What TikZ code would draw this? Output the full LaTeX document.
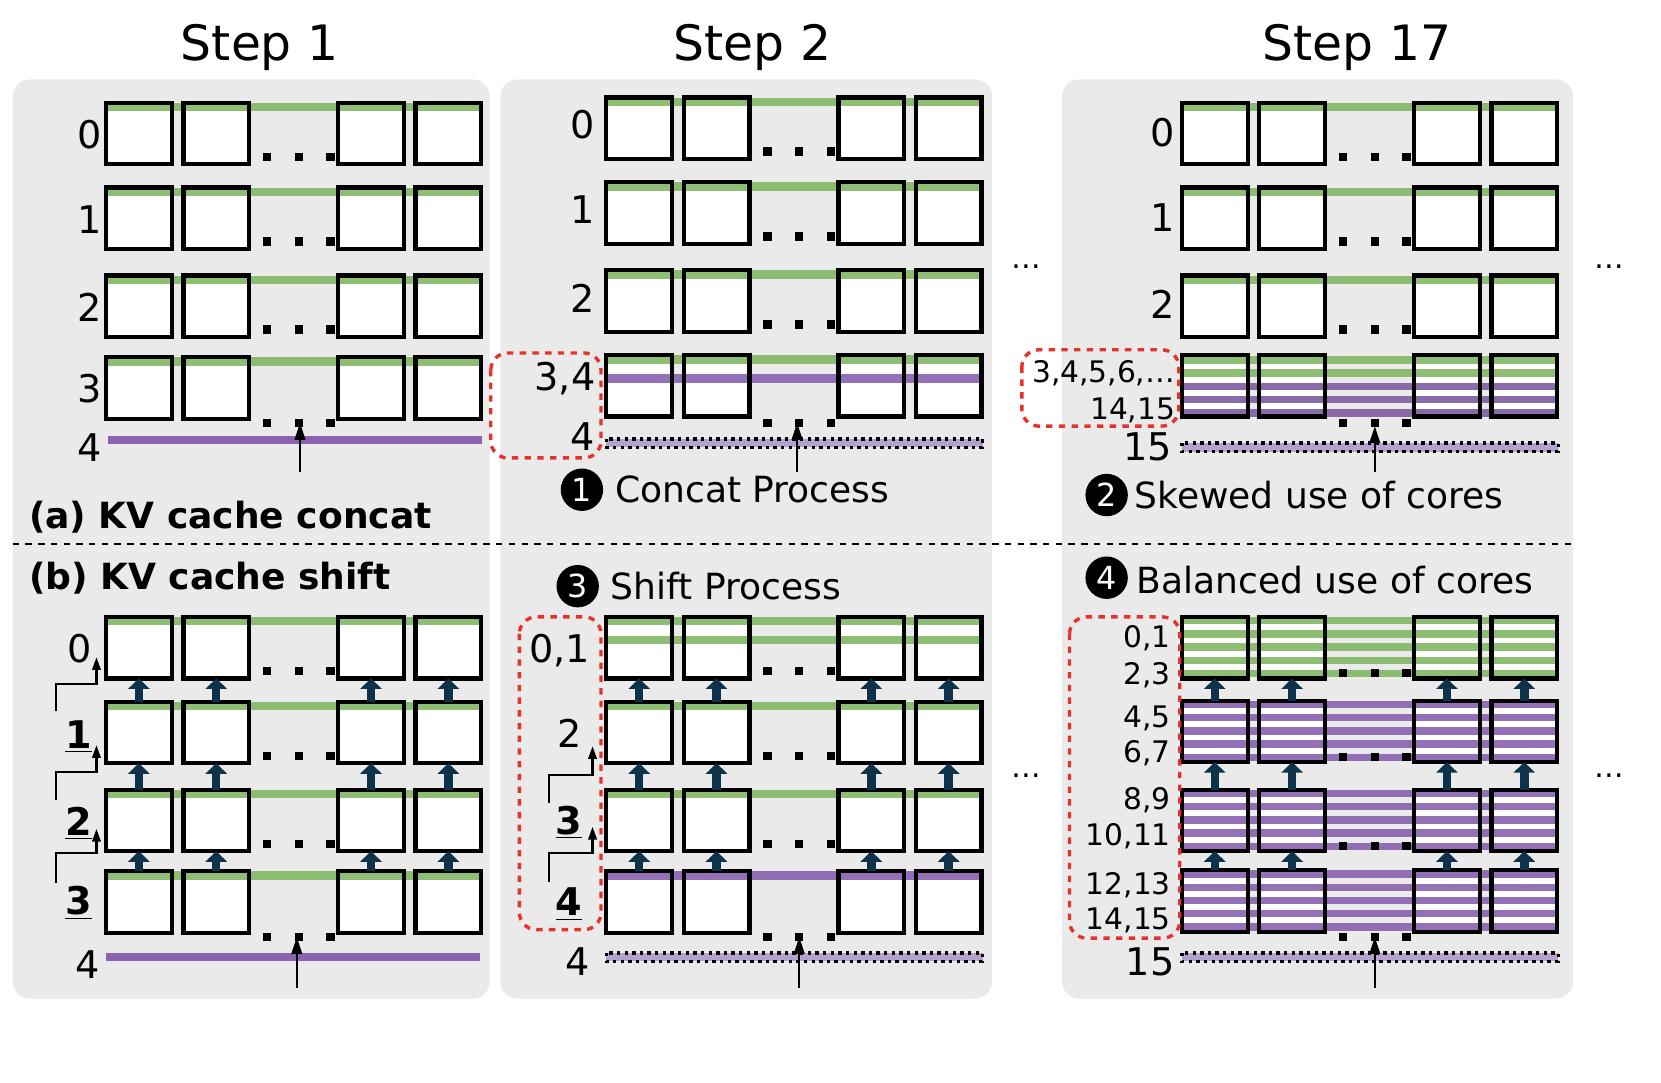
\documentclass[tikz,border=0pt]{standalone}
\usepackage{fontspec}
\setmainfont{DejaVu Sans}
\usetikzlibrary{arrows.meta}
\definecolor{panelgray}{RGB}{234,234,234}
\definecolor{kvgreen}{RGB}{130,183,100}
\definecolor{kvpurple}{RGB}{137,98,176}
\definecolor{kvlilac}{RGB}{180,162,206}
\definecolor{kvred}{RGB}{230,50,40}
\definecolor{kvnavy}{RGB}{15,50,75}
\tikzset{
  panel/.style={fill=panelgray, rounded corners=8},
  cell/.style={draw=black, line width=2pt},
  gfill/.style={fill=kvgreen, fill opacity=0.9},
  pfill/.style={fill=kvpurple, fill opacity=0.9},
  dotbar/.style={fill=kvlilac, draw=black, line width=1.6pt, dotted},
  redbox/.style={draw=kvred, line width=1.6pt, dashed, rounded corners=8},
  shiftarr/.style={draw=kvnavy, line width=4pt, -{Triangle[width=10pt,length=5pt]}},
  bentarr/.style={draw=black, line width=1pt, -{Triangle[width=4pt,length=6pt]}},
  inarr/.style={draw=black, line width=1pt, -{Triangle[width=5pt,length=8pt]}},
  steptitle/.style={font=\fontsize{23}{23}\selectfont},
  rowlbl/.style={font=\fontsize{18}{18}\selectfont, inner sep=1pt},
  smalllbl/.style={font=\fontsize{14}{14}\selectfont, inner sep=1pt, anchor=east},
  caption/.style={font=\fontsize{17}{17}\selectfont, anchor=west, inner sep=1pt},
  num/.style={circle, fill=black, text=white, inner sep=0pt, minimum size=20pt, font=\fontsize{15}{15}\selectfont},
}
% one row of four cores
\newcommand{\kvcells}[2]{\foreach \dx in {0,73,219,292}{\fill[white] ({#1+\dx},#2) rectangle ++(62,58);}}
\newcommand{\kvframes}[2]{\foreach \dx in {0,73,219,292}{\draw[cell] ({#1+\dx},#2) rectangle ++(62,58);}}
\newcommand{\kvdots}[2]{\foreach \dx in {148,178,208}{\fill ({#1+\dx},#2) rectangle ++(8,8);}}
\newcommand{\kvbar}[3]{\fill[#3] (#1,#2) rectangle ++(355,8);}
\newcommand{\kvstripes}[3]{\foreach \k in {0,...,4}{\fill[#3] (#1,{#2+\k*12.5}) rectangle ++(355,7);}}
\newcommand{\kvdotted}[2]{\draw[dotbar] (#1,{#2-4}) rectangle ++(355,8);}
\newcommand{\kvshift}[3]{\foreach \dx in {31,104,250,323}{\draw[shiftarr] ({#1+\dx},#2) -- ({#1+\dx},#3);}}
% plain row with green top bar
\newcommand{\kvrow}[2]{\kvcells{#1}{#2}\kvbar{#1}{#2}{gfill}\kvframes{#1}{#2}}

\begin{document}
\begin{tikzpicture}[x=0.5pt,y=0.5pt,yscale=-1]
\useasboundingbox (0,0) rectangle (1567,1021);
% panels
\fill[panel] (12,75) rectangle (462,942);
\fill[panel] (472,75) rectangle (936,942);
\fill[panel] (1002,75) rectangle (1484,942);
\node[steptitle] (t1) at (245,45) {Step 1};
\node[steptitle] (t2) at (710,45) {Step 2};
\node[steptitle] (t17) at (1280,45) {Step 17};
\draw[dashed, line width=1.2pt] (12,513) -- (1482,513);

% (a) step 1
\foreach \y in {97,177,260,337}{\kvrow{100}{\y}}
\foreach \y in {97,177,260}{\kvdots{100}{\y+47}}
\kvdots{100}{395}
\fill[kvpurple] (102,411) rectangle (455,419);
\foreach \l/\y in {0/127,1/207,2/290,3/367,4/422}{\node[rowlbl] (a1l\l) at (85,\y) {\l};}
\draw[inarr] (283,445) -- (283,399);
\node[font=\fontsize{17}{17}\selectfont\bfseries, anchor=west, inner sep=1pt] (capa) at (25,488) {(a) KV cache concat};

% (a) step 2
\foreach \y in {92,172,255}{\kvrow{572}{\y}}
\kvcells{572}{335}\kvbar{572}{335}{gfill}\kvbar{572}{353}{pfill}\kvframes{572}{335}
\foreach \y in {92,172,255}{\kvdots{572}{\y+47}}
\kvdots{572}{395}
\kvdotted{572}{418}
\foreach \l/\y in {0/118,1/198,2/281}{\node[rowlbl] (a2l\l) at (550,\y) {\l};}
\node[rowlbl] (a2l34) at (533,357) {3,4};
\node[rowlbl] (a2l4) at (550,412) {4};
\draw[redbox] (463,333) rectangle (567,432);
\draw[inarr] (752,445) -- (752,399);
\node[num] (n1) at (549,462) {1};
\node[caption] (c1) at (578,462) {Concat Process};

% (a) step 17
\foreach \y in {97,177,260}{\kvrow{1115}{\y}}
\kvcells{1115}{335}
\kvstripes{1115}{336}{gfill}
\foreach \k in {2,3,4}{\fill[pfill] (1115,{336+\k*12.5}) rectangle ++(355,7);}
\kvframes{1115}{335}
\foreach \y in {97,177,260}{\kvdots{1115}{\y+47}}
\kvdots{1115}{395}
\kvdotted{1115}{422}
\foreach \l/\y in {0/125,1/205,2/287}{\node[rowlbl] (a3l\l) at (1097,\y) {\l};}
\node[smalllbl] (a3top) at (1111,352) {3,4,5,6,…};
\node[smalllbl] (a3bot) at (1111,387) {14,15};
\node[rowlbl] (a3l15) at (1083,422) {15};
\draw[redbox] (964,330) rectangle (1112,402);
\draw[inarr] (1297,445) -- (1297,402);
\node[num] (n2) at (1044,467) {2};
\node[caption] (c2) at (1068,467) {Skewed use of cores};

% (b) step 1
\node[font=\fontsize{17}{17}\selectfont\bfseries, anchor=west, inner sep=1pt] (capb) at (25,545) {(b) KV cache shift};
\foreach \y in {582,662,745,822}{\kvrow{100}{\y}}
\foreach \y in {582,662,745}{\kvdots{100}{\y+47}}
\kvdots{100}{880}
\kvshift{100}{662}{640}
\kvshift{100}{745}{720}
\kvshift{100}{822}{803}
\fill[kvpurple] (100,899) rectangle (453,907);
\node[rowlbl] (b1l0) at (75,612) {0};
\node[rowlbl, font=\fontsize{18}{18}\selectfont\bfseries] (b1l1) at (74,695) {\underline{1}};
\node[rowlbl, font=\fontsize{18}{18}\selectfont\bfseries] (b1l2) at (74,777) {\underline{2}};
\node[rowlbl, font=\fontsize{18}{18}\selectfont\bfseries] (b1l3) at (74,852) {\underline{3}};
\node[rowlbl] (b1l4) at (83,910) {4};
\draw[bentarr] (53,671) -- (53,645) -- (91,645) -- (91,620);
\draw[bentarr] (53,755) -- (53,728) -- (91,728) -- (91,703);
\draw[bentarr] (53,833) -- (53,805) -- (91,805) -- (91,782);
\draw[inarr] (280,932) -- (280,884);

% (b) step 2
\kvcells{572}{582}\kvbar{572}{582}{gfill}\kvbar{572}{600}{gfill}\kvframes{572}{582}
\foreach \y in {662,745}{\kvrow{572}{\y}}
\kvcells{572}{822}\kvbar{572}{822}{pfill}\kvframes{572}{822}
\foreach \y in {582,662,745}{\kvdots{572}{\y+47}}
\kvdots{572}{880}
\kvshift{572}{662}{640}
\kvshift{572}{745}{720}
\kvshift{572}{822}{803}
\kvdotted{572}{903}
\node[rowlbl] (b2l01) at (528,614) {0,1};
\node[rowlbl] (b2l2) at (537,692) {2};
\node[rowlbl, font=\fontsize{18}{18}\selectfont\bfseries] (b2l3) at (537,776) {\underline{3}};
\node[rowlbl, font=\fontsize{18}{18}\selectfont\bfseries] (b2l4) at (537,853) {\underline{4}};
\node[rowlbl] (b2l4b) at (545,907) {4};
\draw[bentarr] (518,758) -- (518,731) -- (559,731) -- (559,704);
\draw[bentarr] (518,832) -- (518,805) -- (559,805) -- (559,780);
\draw[redbox] (490,582) rectangle (567,877);
\draw[inarr] (754,932) -- (754,884);
\node[num] (n3) at (545,553) {3};
\node[caption] (c3) at (574,553) {Shift Process};

% (b) step 17
\kvcells{1115}{582}\kvstripes{1115}{582}{gfill}\kvframes{1115}{582}
\foreach \y in {661,745,821}{\kvcells{1115}{\y}\kvstripes{1115}{\y}{pfill}\kvframes{1115}{\y}}
\foreach \y in {582,661,745}{\kvdots{1115}{\y+49}}
\kvdots{1115}{880}
\kvshift{1115}{661}{640}
\kvshift{1115}{745}{719}
\kvshift{1115}{821}{803}
\kvdotted{1115}{903}
\foreach \l/\y [count=\i] in {{0,1}/602,{2,3}/637,{4,5}/678,{6,7}/711,{8,9}/755,{10,11}/789,{12,13}/835,{14,15}/868}{\node[smalllbl] (b3l\i) at (1107,\y) {\l};}
\node[rowlbl] (b3l15) at (1085,907) {15};
\draw[redbox] (1009,582) rectangle (1113,885);
\draw[inarr] (1297,932) -- (1297,884);
\node[num] (n4) at (1044,545) {4};
\node[caption] (c4) at (1070,547) {Balanced use of cores};

% skipped steps
\foreach \x/\y [count=\i] in {968/252,1518/252,968/732,1518/732}{\node[font=\fontsize{14}{14}\selectfont] (skip\i) at (\x,\y) {…};}
\end{tikzpicture}
\end{document}
